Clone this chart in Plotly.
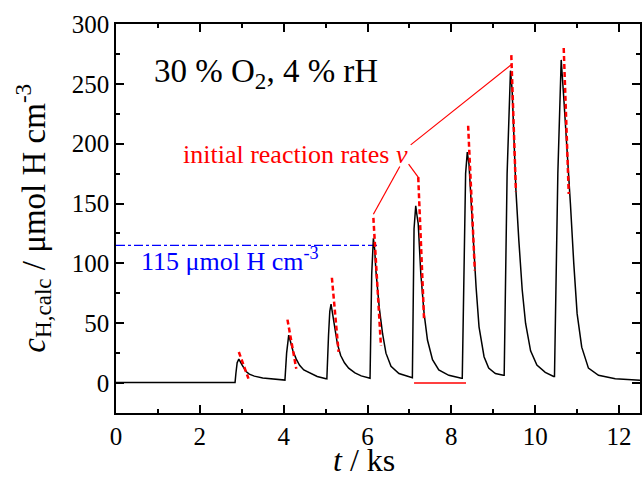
import plotly.graph_objects as go

# measured signal (t in ks, c in umol H cm^-3)
t_ks = [0, 1.0, 2.0, 2.84,
        2.86, 2.89, 2.93, 2.97, 3.01, 3.06, 3.11, 3.18, 3.3, 3.5, 3.75, 4.01,
        4.03, 4.07, 4.10, 4.12, 4.16, 4.22, 4.30, 4.38, 4.48, 4.61, 4.8, 5.01,
        5.03, 5.07, 5.10, 5.13, 5.17, 5.22, 5.28, 5.36, 5.45, 5.55, 5.7, 5.85, 6.04,
        6.06, 6.10, 6.14, 6.17, 6.20, 6.28, 6.36, 6.44, 6.56, 6.75, 7.04,
        7.07, 7.11, 7.15, 7.18, 7.21, 7.27, 7.35, 7.43, 7.55, 7.70, 7.94, 8.24,
        8.26, 8.34, 8.38, 8.42, 8.48, 8.54, 8.59, 8.66, 8.78, 8.89, 9.05, 9.24,
        9.26, 9.33, 9.41, 9.45, 9.49, 9.54, 9.61, 9.69, 9.77, 9.89, 10.04, 10.24, 10.44,
        10.46, 10.54, 10.62, 10.68, 10.76, 10.84, 10.92, 11.00, 11.11, 11.27, 11.51, 11.91, 12.5]
c_H = [0.5, 0.5, 0.4, 0.4,
       8, 17, 20, 18, 15, 12, 9.5, 7.5, 5.8, 4.3, 3.2, 2.3,
       2.5, 25, 38, 40, 35, 27, 20, 14.8, 11, 8.7, 5.5, 3.7,
       3.5, 40, 60, 66, 58, 45, 33, 23, 17, 12.5, 8.5, 6, 4,
       4, 91, 121, 112, 94, 63, 41, 25, 14, 8, 4.5,
       4.5, 129, 148, 140, 133, 92, 58, 36, 19.5, 11, 6.5, 4,
       4, 175, 193, 183, 147, 108, 80, 47, 22, 12.5, 8, 6.5,
       6.5, 175, 261, 245, 203, 161, 119, 78, 50, 27, 15, 9, 5.5,
       5.5, 175, 270, 239, 197, 150, 100, 58, 30, 12.5, 6.5, 3.7, 2.3]

# initial-rate tangents (start/end)
tan_t0 = [2.93, 4.09, 5.15, 6.14, 7.21, 8.40, 9.43, 10.68]
tan_c0 = [26, 53, 88, 138, 172, 215, 274, 280]
tan_t1 = [3.16, 4.30, 5.31, 6.32, 7.35, 8.56, 9.54, 10.80]
tan_c1 = [3.7, 12, 26, 31, 52, 94, 160, 158]

# pointer lines from the label
ptr_t0 = [6.77, 6.98, 7.03]
ptr_c0 = [181, 183, 199]
ptr_t1 = [6.14, 7.23, 9.43]
ptr_c1 = [141, 171, 266]

ref_level = 115
ref_t = [0, 6.28]
base_t = [7.11, 8.35]
base_c = [0, 0]

SERIF = "Liberation Serif"

fig = go.Figure()
fig.add_trace(go.Scatter(x=ref_t, y=[ref_level, ref_level], mode="lines",
                         line=dict(color="#0000ff", width=1.2, dash="dashdot"),
                         showlegend=False, hoverinfo="skip"))
fig.add_trace(go.Scatter(x=t_ks, y=c_H, mode="lines",
                         line=dict(color="black", width=1.5),
                         showlegend=False))
for a, b, c, d in zip(tan_t0, tan_c0, tan_t1, tan_c1):
    fig.add_trace(go.Scatter(x=[a, c], y=[b, d], mode="lines",
                             line=dict(color="#ff0000", width=2.5, dash="5px,3px"),
                             showlegend=False, hoverinfo="skip"))
for a, b, c, d in zip(ptr_t0, ptr_c0, ptr_t1, ptr_c1):
    fig.add_trace(go.Scatter(x=[a, c], y=[b, d], mode="lines",
                             line=dict(color="#ff0000", width=1.2),
                             showlegend=False, hoverinfo="skip"))
fig.add_trace(go.Scatter(x=base_t, y=base_c, mode="lines",
                         line=dict(color="#ff0000", width=1.5),
                         showlegend=False, hoverinfo="skip"))

axis_common = dict(showline=True, linecolor="black", linewidth=1.5, mirror="ticks",
                   ticks="inside", ticklen=8, tickwidth=1.5, tickcolor="black",
                   showgrid=False, zeroline=False,
                   tickfont=dict(family=SERIF, size=25, color="black"))

fig.update_xaxes(range=[0, 12.5], dtick=2, tick0=0,
                 minor=dict(dtick=1, ticks="inside", ticklen=4, tickwidth=1.5, tickcolor="black"),
                 **axis_common)
fig.update_yaxes(range=[-25, 300], dtick=50, tick0=0,
                 minor=dict(dtick=25, ticks="inside", ticklen=4, tickwidth=1.5, tickcolor="black"),
                 **axis_common)

annotations = [
    dict(x=0.86, y=259, xref="x", yref="y", xanchor="left", yanchor="middle",
         text="30 % O<sub>2</sub>, 4 % rH", showarrow=False,
         font=dict(family=SERIF, size=33, color="black")),
    dict(x=1.56, y=191, xref="x", yref="y", xanchor="left", yanchor="middle",
         text="initial reaction rates <i>v</i>", showarrow=False,
         font=dict(family=SERIF, size=26, color="#ff0000")),
    dict(x=0.55, y=103, xref="x", yref="y", xanchor="left", yanchor="middle",
         text="115 μmol H cm<sup>-3</sup>", showarrow=False,
         font=dict(family=SERIF, size=26, color="#0000ff")),
    dict(x=0.473, y=-0.172, xref="paper", yref="paper", xanchor="center", yanchor="bottom",
         text="<i>t</i> / ks", showarrow=False,
         font=dict(family=SERIF, size=32, color="black")),
    dict(x=-0.158, y=0.5, xref="paper", yref="paper", xanchor="center", yanchor="middle",
         text="<i>c</i><sub>H,calc</sub> / μmol H cm<sup>-3</sup>", showarrow=False,
         textangle=-90, font=dict(family=SERIF, size=33, color="black")),
]

fig.update_layout(width=644, height=480,
                  margin=dict(l=116, r=2, t=24, b=67),
                  plot_bgcolor="white", paper_bgcolor="white",
                  font=dict(family=SERIF),
                  annotations=annotations, showlegend=False)

fig.write_html("out.html")
